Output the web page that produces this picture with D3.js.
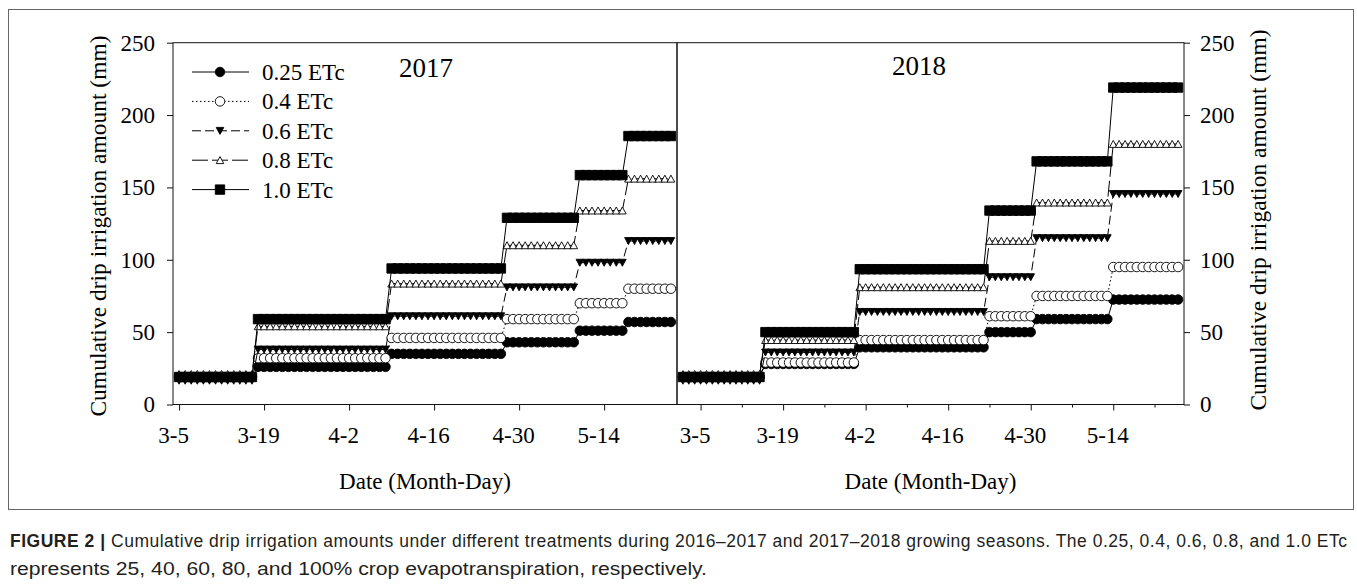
<!DOCTYPE html>
<html>
<head>
<meta charset="utf-8">
<script src="https://cdn.jsdelivr.net/npm/d3@7"></script>
<style>
  body { margin: 0; background: #fff; }
  svg text { font-family: "Liberation Serif", "Times New Roman", serif; fill: #000; }
  svg text.caption { font-family: "Liberation Sans", Arial, sans-serif; fill: #231f20; }
</style>
</head>
<body>
<svg id="chart" width="1357" height="585"></svg>
<script>
// ---- Data -------------------------------------------------------------
const treatments = ["0.25 ETc", "0.4 ETc", "0.6 ETc", "0.8 ETc", "1.0 ETc"];

// 2017 season: first day of each cumulative level, and last day of record
const levelStarts2017 = ["3-5", "3-18", "4-9", "4-28", "5-10", "5-18"];
const lastDay2017 = "5-25";
const cum2017_025 = [19, 26, 35, 43, 51, 57];
const cum2017_04  = [19, 32, 46, 59, 70, 80];
const cum2017_06  = [16.5, 38, 61, 81, 98, 113];
const cum2017_08  = [21, 54, 83.5, 110, 134, 156];
const cum2017_10  = [19, 59, 94, 129, 158.5, 185.5];

// 2018 season
const levelStarts2018 = ["3-2", "3-16", "4-1", "4-23", "5-1", "5-14"];
const lastDay2018 = "5-25";
const cum2018_025 = [19, 28, 39.5, 50, 59, 72.5];
const cum2018_04  = [19, 29, 44.5, 61, 75, 95];
const cum2018_06  = [16.5, 36, 64, 88, 115, 145.5];
const cum2018_08  = [21, 44.5, 81, 113, 139.5, 180];
const cum2018_10  = [19, 50, 93.5, 134, 168, 219];

// Axis ticks
const dateTickLabels = ["3-5", "3-19", "4-2", "4-16", "4-30", "5-14"];
const minorTickLabels2018 = ["3-12", "3-26", "4-9", "4-23", "5-7", "5-21"];
const yTickValues = [0, 50, 100, 150, 200, 250];

// ---- Helpers ----------------------------------------------------------
const parseMD = (year, md) => {
  const [m, d] = md.split("-").map(Number);
  return new Date(year, m - 1, d);
};

// One point per day, holding the cumulative amount reached on that day
function dailyPoints(year, starts, lastDay, values) {
  const pts = [];
  starts.forEach((s, i) => {
    const from = parseMD(year, s);
    const to = i < starts.length - 1
      ? parseMD(year, starts[i + 1])
      : d3.timeDay.offset(parseMD(year, lastDay), 1);
    d3.timeDay.range(from, to).forEach(d => pts.push({ date: d, value: values[i] }));
  });
  return pts;
}

const shapes = {
  circle: "M-4.75,0A4.75,4.75 0 1,1 4.75,0A4.75,4.75 0 1,1 -4.75,0Z",
  square: "M-4.7,-4.7h9.4v9.4h-9.4Z",
  triUp: "M0,-3.6L3.8,3.4L-3.8,3.4Z",
  triDown: "M0,3.6L3.8,-3.4L-3.8,-3.4Z"
};

const seriesStyle = [
  { shape: "circle",  fill: "#000", dash: null },
  { shape: "circle",  fill: "#fff", dash: "1.5,2.5" },
  { shape: "triDown", fill: "#000", dash: "9,4" },
  { shape: "triUp",   fill: "#fff", dash: "16,4" },
  { shape: "square",  fill: "#000", dash: null }
];

// ---- Layout -----------------------------------------------------------
const svg = d3.select("#chart");
const plotTop = 42.7, plotBottom = 404.5;
const y = d3.scaleLinear().domain([0, 250]).range([plotBottom, plotTop]);

// outer figure frame
svg.append("rect")
  .attr("x", 8.5).attr("y", 9.5).attr("width", 1345).attr("height", 500)
  .attr("fill", "none").attr("stroke", "#666").attr("stroke-width", 1);

const panels = [
  {
    year: 2017,
    x: d3.scaleTime().domain([parseMD(2017, "3-4"), parseMD(2017, "5-26")]).range([173, 677]),
    starts: levelStarts2017, last: lastDay2017,
    values: [cum2017_025, cum2017_04, cum2017_06, cum2017_08, cum2017_10],
    minor: null, yAxis: "left", yearLabel: { x: 426, y: 77 }
  },
  {
    year: 2018,
    x: d3.scaleTime().domain([parseMD(2018, "3-1"), parseMD(2018, "5-26")]).range([677, 1184]),
    starts: levelStarts2018, last: lastDay2018,
    values: [cum2018_025, cum2018_04, cum2018_06, cum2018_08, cum2018_10],
    minor: minorTickLabels2018, yAxis: "right", yearLabel: { x: 919, y: 75 }
  }
];

function styleAxis(g, size) {
  g.attr("font-family", null).attr("font-size", null).attr("color", "#111");
  g.selectAll("text").style("font-size", size + "px");
  g.select(".domain").remove();
}

panels.forEach(p => {
  const x = p.x;
  const [x0, x1] = x.range();
  const g = svg.append("g");

  // bottom axis: major ticks
  const major = g.append("g").attr("transform", `translate(0,${plotBottom})`)
    .call(d3.axisBottom(x)
      .tickValues(dateTickLabels.map(t => parseMD(p.year, t)))
      .tickFormat((d, i) => dateTickLabels[i])
      .tickSize(6).tickPadding(16).tickSizeOuter(0));
  styleAxis(major, 23);
  major.selectAll("text").attr("dx", -6);

  if (p.minor) {
    const minor = g.append("g").attr("transform", `translate(0,${plotBottom})`)
      .call(d3.axisBottom(x)
        .tickValues(p.minor.map(t => parseMD(p.year, t)))
        .tickFormat("").tickSize(3).tickSizeOuter(0));
    styleAxis(minor, 23);
  }

  // y axis
  if (p.yAxis === "left") {
    const ya = g.append("g").attr("transform", `translate(${x0},0)`)
      .call(d3.axisLeft(y).tickValues(yTickValues).tickSize(6).tickPadding(12).tickSizeOuter(0));
    styleAxis(ya, 23);
  } else {
    const ya = g.append("g").attr("transform", `translate(${x1},0)`)
      .call(d3.axisRight(y).tickValues(yTickValues).tickSize(6).tickPadding(10).tickSizeOuter(0));
    styleAxis(ya, 23);
  }

  // series
  p.values.forEach((vals, si) => {
    const st = seriesStyle[si];
    const pts = dailyPoints(p.year, p.starts, p.last, vals);
    const sg = g.append("g");
    sg.append("path")
      .datum(pts)
      .attr("fill", "none").attr("stroke", "#000").attr("stroke-width", 1)
      .attr("stroke-dasharray", st.dash)
      .attr("d", d3.line().x(d => x(d.date)).y(d => y(d.value)));
    sg.selectAll("path.mk").data(pts).join("path")
      .attr("class", "mk")
      .attr("d", shapes[st.shape])
      .attr("transform", d => `translate(${x(d.date)},${y(d.value)})`)
      .attr("fill", st.fill).attr("stroke", "#000").attr("stroke-width", 0.9);
  });

  // panel frame
  g.append("rect")
    .attr("x", x0).attr("y", plotTop).attr("width", x1 - x0).attr("height", plotBottom - plotTop)
    .attr("fill", "none").attr("stroke", "#111").attr("stroke-width", 1);

  // year label
  g.append("text").attr("x", p.yearLabel.x).attr("y", p.yearLabel.y)
    .attr("text-anchor", "middle").style("font-size", "27px").text(p.year);

  // x axis title
  g.append("text").attr("x", (x0 + x1) / 2).attr("y", 489)
    .attr("text-anchor", "middle").style("font-size", "23px").text("Date (Month-Day)");
});

// y axis titles
const yTitle = "Cumulative drip irrigation amount (mm)";
[{ x: 98, y: 226 }, { x: 1258, y: 220 }].forEach(pos => {
  svg.append("text")
    .attr("transform", `translate(${pos.x},${pos.y}) rotate(-90)`)
    .attr("text-anchor", "middle").attr("dy", "0.35em")
    .style("font-size", "23.5px").text(yTitle);
});

// legend
const legend = svg.append("g");
treatments.forEach((name, i) => {
  const st = seriesStyle[i];
  const cy = 72 + i * 29.4;
  legend.append("line")
    .attr("x1", 192).attr("x2", 249).attr("y1", cy).attr("y2", cy)
    .attr("stroke", "#000").attr("stroke-width", 1).attr("stroke-dasharray", st.dash);
  legend.append("path").attr("d", shapes[st.shape])
    .attr("transform", `translate(220,${cy})`)
    .attr("fill", st.fill).attr("stroke", "#000").attr("stroke-width", 0.9);
  legend.append("text").attr("x", 262).attr("y", cy).attr("dy", "0.35em")
    .style("font-size", "23px").text(name);
});

// caption (first line justified to the figure width)
const cap1 = svg.append("text").attr("class", "caption").attr("x", 10).attr("y", 547)
  .style("font-size", "17.5px")
  .attr("textLength", 1337).attr("lengthAdjust", "spacing");
cap1.append("tspan").style("font-weight", "bold").text("FIGURE 2 | ");
cap1.append("tspan").text("Cumulative drip irrigation amounts under different treatments during 2016–2017 and 2017–2018 growing seasons. The 0.25, 0.4, 0.6, 0.8, and 1.0 ETc");
svg.append("text").attr("class", "caption").attr("x", 10).attr("y", 575)
  .style("font-size", "17.5px")
  .attr("textLength", 697).attr("lengthAdjust", "spacingAndGlyphs")
  .text("represents 25, 40, 60, 80, and 100% crop evapotranspiration, respectively.");
</script>
</body>
</html>
